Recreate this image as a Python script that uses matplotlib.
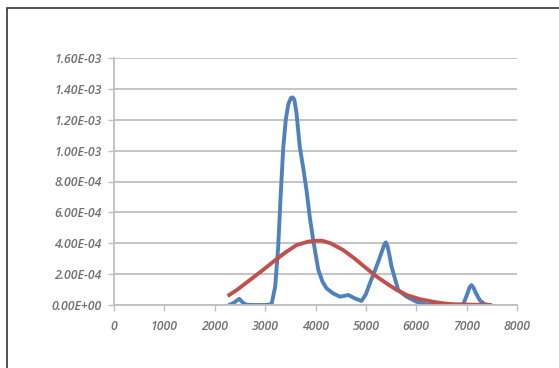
import matplotlib.pyplot as plt
from matplotlib.patches import Rectangle
from matplotlib.ticker import FuncFormatter

# valores
blue_x = [2288, 2380, 2486, 2560, 2626, 2800, 3000, 3128, 3200, 3260, 3310, 3360, 3410, 3460,
          3510, 3546, 3580, 3620, 3690, 3760, 3823, 3890, 3955, 4054, 4140, 4220, 4350, 4484,
          4560, 4649, 4782, 4914, 5000, 5079, 5212, 5300, 5370, 5397, 5430, 5470, 5509, 5641,
          5807, 6005, 6204, 6500, 6800, 6931, 7000, 7060, 7097, 7140, 7180, 7262, 7361, 7460]
blue_y = [0.0, 1.5e-5, 4.0e-5, 1.5e-5, 2e-6, 0.0, 0.0, 5e-6, 1.2e-4, 3.8e-4, 7.2e-4, 1.02e-3,
          1.2e-3, 1.3e-3, 1.34e-3, 1.345e-3, 1.33e-3, 1.25e-3, 1.02e-3, 8.8e-4, 7.4e-4, 5.6e-4,
          4.2e-4, 2.3e-4, 1.5e-4, 1.08e-4, 7.5e-5, 5.4e-5, 5.8e-5, 6.5e-5, 4.3e-5, 2.6e-5, 7e-5,
          1.4e-4, 2.5e-4, 3.3e-4, 3.95e-4, 4.06e-4, 3.8e-4, 3.2e-4, 2.5e-4, 9.7e-5, 5.4e-5,
          2.1e-5, 3e-6, 0.0, 0.0, 3e-6, 6e-5, 1.15e-4, 1.29e-4, 1.1e-4, 8e-5, 3e-5, 5e-6, 0.0]

red_x = [2288, 2450, 2698, 2930, 3161, 3400, 3624, 3850, 4000, 4120, 4300, 4550, 4780, 5013,
         5210, 5410, 5600, 5807, 6070, 6336, 6530, 6733, 7100, 7460]
red_y = [6.5e-5, 1.0e-4, 1.62e-4, 2.2e-4, 2.8e-4, 3.4e-4, 3.88e-4, 4.1e-4, 4.16e-4, 4.17e-4,
         4.0e-4, 3.56e-4, 3.0e-4, 2.37e-4, 1.85e-4, 1.4e-4, 1.0e-4, 6.5e-5, 3.8e-5, 2.1e-5,
         1.1e-5, 5e-6, 2e-6, 0.0]

x_ticks = [0, 1000, 2000, 3000, 4000, 5000, 6000, 7000, 8000]
y_ticks = [0, 2e-4, 4e-4, 6e-4, 8e-4, 1.0e-3, 1.2e-3, 1.4e-3, 1.6e-3]

plt.rcParams['font.family'] = ['Open Sans', 'DejaVu Sans']

fig = plt.figure(figsize=(5.59, 3.68), dpi=100)
fig.patches.append(Rectangle((7 / 559, -0.1), 1.2, 1.1 - 8 / 368, transform=fig.transFigure,
                             fill=False, edgecolor='#333333', linewidth=1.2))

ax = fig.add_axes([114 / 559, 1 - 305 / 368, (517 - 114) / 559, (305 - 58) / 368])
ax.plot(blue_x, blue_y, color='#4f81bd', linewidth=2.8, solid_joinstyle='round')
ax.plot(red_x, red_y, color='#c0504d', linewidth=2.8, solid_joinstyle='round')

ax.set_xlim(0, 8000)
ax.set_ylim(0, 1.6e-3)
ax.set_xticks(x_ticks)
ax.set_yticks(y_ticks)
ax.yaxis.set_major_formatter(FuncFormatter(lambda v, p: f'{v:.2E}'))
ax.grid(axis='y', color='#bfbfbf', linewidth=1.3)
ax.set_axisbelow(True)

for s in ['top', 'right']:
    ax.spines[s].set_visible(False)
for s in ['left', 'bottom']:
    ax.spines[s].set_color('#bfbfbf')
    ax.spines[s].set_linewidth(1.3)

ax.tick_params(axis='both', colors='#bfbfbf', width=1.0, length=4, labelcolor='#707070',
               labelsize=8.8)
ax.tick_params(axis='x', pad=7)
ax.tick_params(axis='y', pad=5)
for lbl in ax.get_xticklabels() + ax.get_yticklabels():
    lbl.set_fontstyle('italic')
    lbl.set_fontweight('semibold')

fig.savefig('out.png', dpi=100)
